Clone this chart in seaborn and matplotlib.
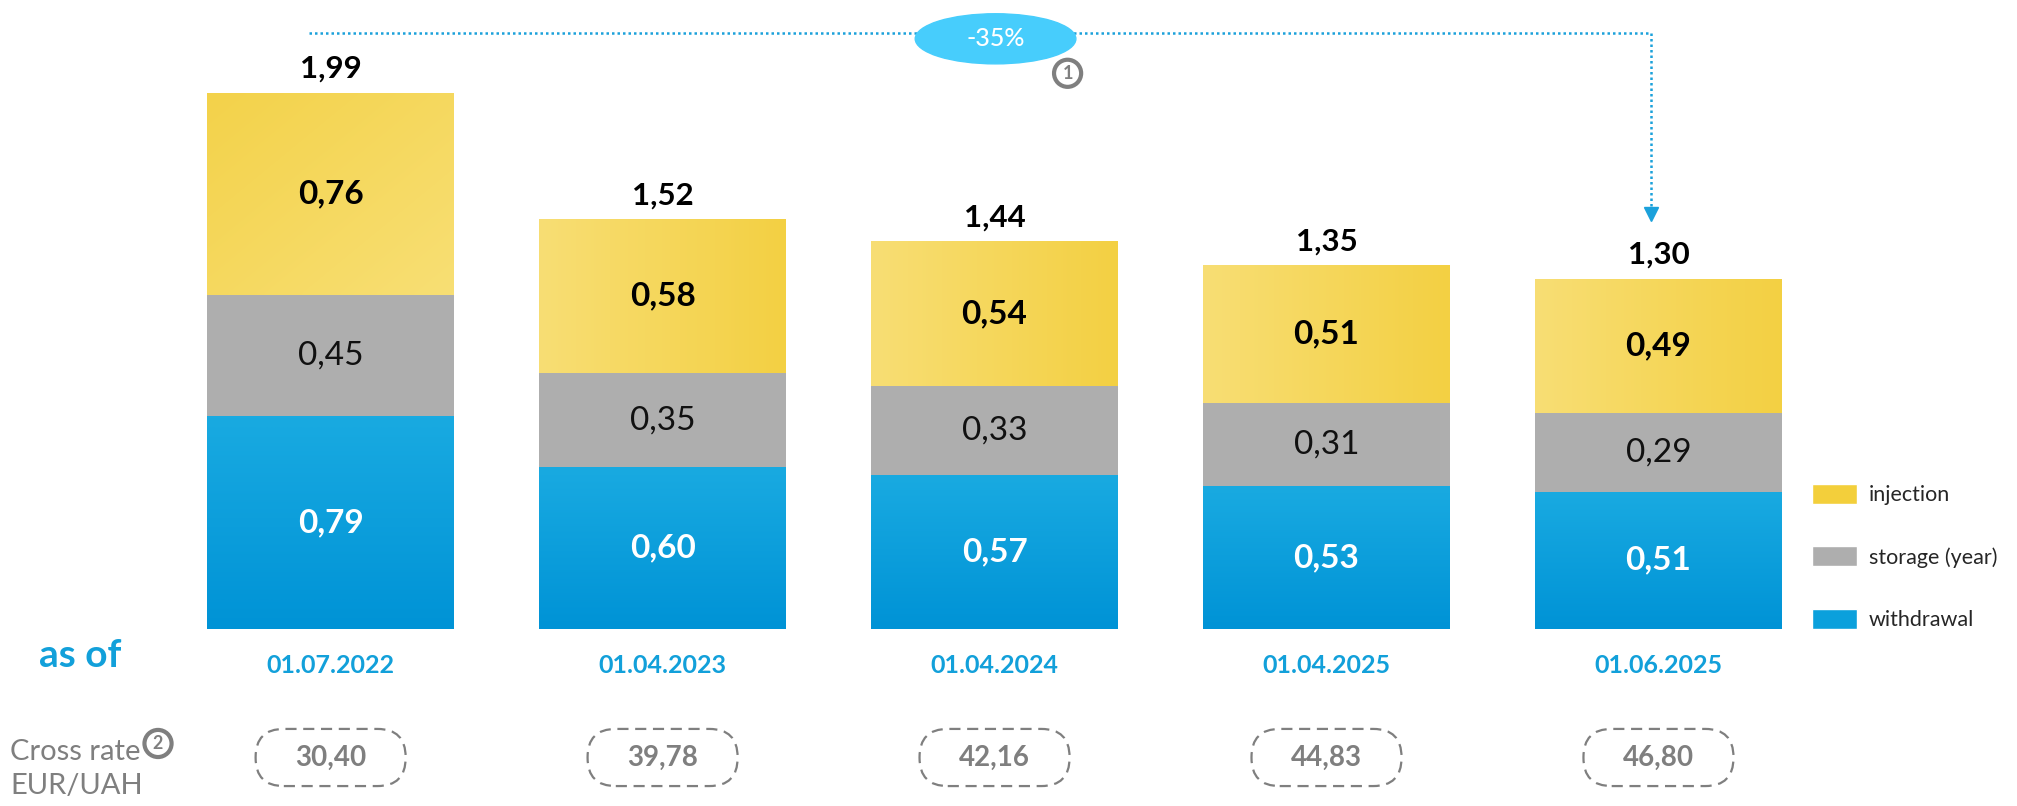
import numpy as np
import pandas as pd
import matplotlib
matplotlib.use("Agg")
import matplotlib.pyplot as plt
import seaborn as sns
from matplotlib.colors import LinearSegmentedColormap
from matplotlib.patches import Patch, Ellipse, FancyBboxPatch


dates = ['01.07.2022', '01.04.2023', '01.04.2024', '01.04.2025', '01.06.2025']
withdrawal = [0.79, 0.60, 0.57, 0.53, 0.51]
storage = [0.45, 0.35, 0.33, 0.31, 0.29]
injection = [0.76, 0.58, 0.54, 0.51, 0.49]
totals = [1.99, 1.52, 1.44, 1.35, 1.30]
cross_rate = ['30,40', '39,78', '42,16', '44,83', '46,80']
change = '-35%'

YELLOW = '#F5D75A'
GREY = '#AEAEAE'
BLUE = '#0A9FDB'
TXT_BLUE = '#12A0DA'
TXT_GREY = '#7F7F7F'


def fmt(v):
    return f"{v:.2f}".replace('.', ',')


def gradient(ax, patch, y0, y1, colors, mode, z):
    x0 = patch.get_x()
    x1 = x0 + patch.get_width()
    g = np.linspace(0, 1, 64)
    if mode == 'h':
        img = np.tile(g, (64, 1))
    elif mode == 'v':
        img = np.tile(g[:, None], (1, 64))
    else:
        img = (g[None, :] + (1 - g)[:, None]) / 2
    cmap = LinearSegmentedColormap.from_list('grad', colors)
    im = ax.imshow(img, extent=(x0, x1, y0, y1), origin='lower', cmap=cmap,
                   vmin=0, vmax=1, aspect='auto', interpolation='bicubic', zorder=z)
    im.set_clip_path(patch)


df = pd.DataFrame({'date': dates, 'withdrawal': withdrawal, 'storage': storage,
                   'injection': injection, 'total': totals})
df['lower'] = df['withdrawal'] + df['storage']

sns.set_theme(style='white')
plt.rcParams['font.family'] = ['Lato', 'DejaVu Sans']

fig = plt.figure(figsize=(20.17, 8.06), dpi=100)
ax = fig.add_axes([0, 0, 1, 1])

bw = 0.744
sns.barplot(data=df, x='date', y='total', color=YELLOW, width=bw, saturation=1,
            errorbar=None, linewidth=0, zorder=1, ax=ax)
sns.barplot(data=df, x='date', y='lower', color=GREY, width=bw, saturation=1,
            errorbar=None, linewidth=0, zorder=2, ax=ax)
sns.barplot(data=df, x='date', y='withdrawal', color=BLUE, width=bw, saturation=1,
            errorbar=None, linewidth=0, zorder=3, ax=ax)

# soft gradients like the original slide
for i, p in enumerate(ax.containers[0]):
    if i == 0:
        gradient(ax, p, df['lower'][i], df['total'][i], ['#F3D24A', '#F8DF74'], 'd', 1.5)
    else:
        gradient(ax, p, df['lower'][i], df['total'][i], ['#F8DE74', '#F3D043'], 'h', 1.5)
for i, p in enumerate(ax.containers[2]):
    gradient(ax, p, 0, df['withdrawal'][i], ['#0093D6', '#19AAE1'], 'v', 3.5)

for i, row in df.iterrows():
    ax.text(i, row['lower'] + (row['total'] - row['lower']) / 2, fmt(row['injection']),
            ha='center', va='center', fontsize=24, fontweight='bold', color='black', zorder=5)
    ax.text(i, row['withdrawal'] + row['storage'] / 2, fmt(row['storage']),
            ha='center', va='center', fontsize=24, color='#111111', zorder=5)
    ax.text(i, row['withdrawal'] / 2, fmt(row['withdrawal']),
            ha='center', va='center', fontsize=24, fontweight='bold', color='white', zorder=5)
    ax.annotate(fmt(row['total']), (i, row['total']), xytext=(0, 17),
                textcoords='offset points', ha='center', va='center',
                fontsize=22.5, fontweight='bold', color='black')
    ax.text(i, -0.134, row['date'], ha='center', va='center', fontsize=18,
            fontweight='bold', color=TXT_BLUE)

# cross rate boxes
ma = 332 / 269.5
box_w, box_h = 0.452, 0.212
for i, cr in enumerate(cross_rate):
    box = FancyBboxPatch((i - box_w / 2, -0.477 - box_h / 2), box_w, box_h,
                         boxstyle='round,pad=0,rounding_size=0.085', mutation_aspect=ma,
                         fill=False, ec=TXT_GREY, lw=1.6, ls=(0, (5, 3)), clip_on=False)
    ax.add_patch(box)
    ax.text(i, -0.477, cr, ha='center', va='center', fontsize=20,
            fontweight='bold', color=TXT_GREY)

ax.text(-0.878, -0.10, 'as of', ha='left', va='center', fontsize=28,
        fontweight='bold', color=TXT_BLUE)
ax.text(-0.966, -0.456, 'Cross rate', ha='left', va='center', fontsize=21, color=TXT_GREY)
ax.text(-0.966, -0.582, 'EUR/UAH', ha='left', va='center', fontsize=21, color=TXT_GREY)
ax.text(-0.52, -0.425, '2', ha='center', va='center', fontsize=13, fontweight='bold',
        color=TXT_GREY, bbox=dict(boxstyle='circle,pad=0.28', fc='white', ec=TXT_GREY, lw=3))

# change annotation across the top
top_y = max(totals) + 0.22
end_x = len(dates) - 1 - 0.024
end_y = totals[-1] + 0.24
ax.plot([-0.066, end_x, end_x], [top_y, top_y, end_y], color='#1BA1DB', lw=1.8,
        ls=(0, (1, 1.2)), zorder=4)
ax.plot([end_x], [end_y], marker='v', color='#1BA1DB', markersize=10, zorder=4)
ax.add_patch(Ellipse((2.003, top_y - 0.02), 0.484, 0.186, color='#47CDFC', zorder=5))
ax.text(2.003, top_y - 0.02, change, ha='center', va='center', fontsize=18,
        fontweight='medium', color='white', zorder=6)
ax.text(2.220, 2.062, '1', ha='center', va='center', fontsize=13, fontweight='bold',
        color=TXT_GREY, zorder=7,
        bbox=dict(boxstyle='circle,pad=0.28', fc='white', ec=TXT_GREY, lw=3))

handles = [Patch(fc='#F3CF3B', label='injection'),
           Patch(fc='#AEAEAE', label='storage (year)'),
           Patch(fc='#0BA0DC', label='withdrawal')]
fig.legend(handles=handles, loc='upper left', bbox_to_anchor=(1812 / 2017, 1 - 484 / 806),
           frameon=False, fontsize=15.5, handlelength=2.07, handleheight=1.06,
           labelspacing=1.9, handletextpad=0.58, borderpad=0, borderaxespad=0)

ax.set_xlim(-0.996, 5.08)
ax.set_ylim(-0.657, 2.334)
ax.set_axis_off()

fig.savefig('out.png', dpi=100, facecolor='white')
